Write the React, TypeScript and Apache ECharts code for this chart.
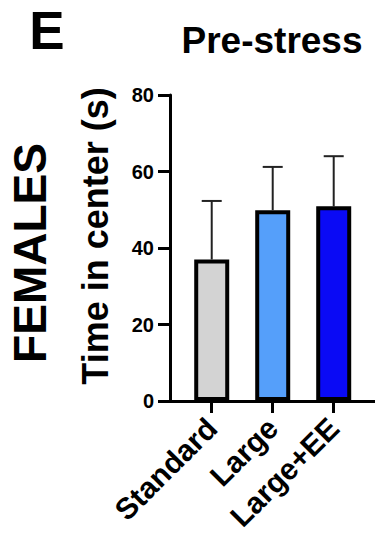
import React, { useEffect, useRef } from "react";
import * as echarts from "echarts";

const categories = ["Standard", "Large", "Large+EE"];
const meanValues = [37.0, 49.9, 50.9];
const errorValues = [15.3, 11.3, 13.1];
const barColors = ["#d3d3d3", "#559ffa", "#0a0af5"];
const yTicks = [0, 20, 40, 60, 80];

const FONT = "'Liberation Sans', Arial, Helvetica, sans-serif";

export default function App() {
  const ref = useRef<HTMLDivElement>(null);
  useEffect(() => {
    if (!ref.current) return;
    const chart = echarts.init(ref.current, null, { renderer: "svg" });
    const positions = categories.map((_, i) => i);
    const option: any = {
      animation: false,
      backgroundColor: "#ffffff",
      grid: { left: 170, right: 0, top: 95, bottom: 151, outerBoundsMode: "none" },
      xAxis: {
        type: "value",
        min: -0.684,
        max: 2.677,
        axisLine: { show: true, onZero: false, lineStyle: { color: "#000", width: 3 } },
        axisTick: {
          show: true,
          customValues: positions,
          length: 12,
          lineStyle: { color: "#000", width: 3 },
        },
        axisLabel: {
          customValues: positions,
          formatter: (v: number) => categories[Math.round(v)] ?? "",
          rotate: 45,
          margin: 22,
          color: "#000",
          fontSize: 30,
          fontWeight: "bold",
          fontFamily: FONT,
        },
        splitLine: { show: false },
      },
      yAxis: {
        type: "value",
        min: yTicks[0],
        max: yTicks[yTicks.length - 1],
        interval: 20,
        axisLine: { show: true, onZero: false, lineStyle: { color: "#000", width: 3 } },
        axisTick: { show: true, length: 12, lineStyle: { color: "#000", width: 3 } },
        axisLabel: {
          margin: 16,
          color: "#000",
          fontSize: 20,
          fontWeight: "bold",
          fontFamily: FONT,
        },
        splitLine: { show: false },
      },
      series: [
        {
          type: "bar",
          barWidth: 35,
          data: meanValues.map((v, i) => ({
            value: [i, v],
            itemStyle: { color: barColors[i], borderColor: "#000", borderWidth: 4 },
          })),
          z: 2,
        },
        {
          type: "custom",
          z: 1,
          data: meanValues.map((v, i) => [i, v, v + errorValues[i]]),
          renderItem: (params: any, api: any) => {
            const x = api.value(0);
            const lo = api.coord([x, api.value(1)]);
            const hi = api.coord([x, api.value(2)]);
            const half = 10;
            const style = { stroke: "#222", lineWidth: 2, fill: "none" };
            return {
              type: "group",
              children: [
                { type: "line", shape: { x1: lo[0], y1: lo[1], x2: hi[0], y2: hi[1] }, style },
                { type: "line", shape: { x1: hi[0] - half, y1: hi[1], x2: hi[0] + half, y2: hi[1] }, style },
              ],
            };
          },
        },
      ],
      graphic: [
        {
          type: "text",
          x: 47,
          y: 30,
          style: {
            text: "E",
            fontSize: 53,
            fontWeight: "bold",
            fontFamily: FONT,
            fill: "#000",
            align: "center",
            verticalAlign: "middle",
          },
        },
        {
          type: "text",
          x: 272,
          y: 40,
          style: {
            text: "Pre-stress",
            fontSize: 37,
            fontWeight: "bold",
            fontFamily: FONT,
            fill: "#000",
            align: "center",
            verticalAlign: "middle",
          },
        },
        {
          type: "text",
          x: 30,
          y: 253,
          rotation: Math.PI / 2,
          style: {
            text: "FEMALES",
            fontSize: 46,
            fontWeight: "bold",
            fontFamily: FONT,
            fill: "#000",
            align: "center",
            verticalAlign: "middle",
          },
        },
        {
          type: "text",
          x: 95,
          y: 236,
          rotation: Math.PI / 2,
          style: {
            text: "Time in center (s)",
            fontSize: 36,
            fontWeight: "bold",
            fontFamily: FONT,
            fill: "#000",
            align: "center",
            verticalAlign: "middle",
          },
        },
      ],
    };
    chart.setOption(option);
    return () => chart.dispose();
  }, []);
  return (
    <div
      ref={ref}
      style={{ position: "fixed", left: 0, top: 0, width: 375, height: 552, background: "#fff" }}
    />
  );
}
